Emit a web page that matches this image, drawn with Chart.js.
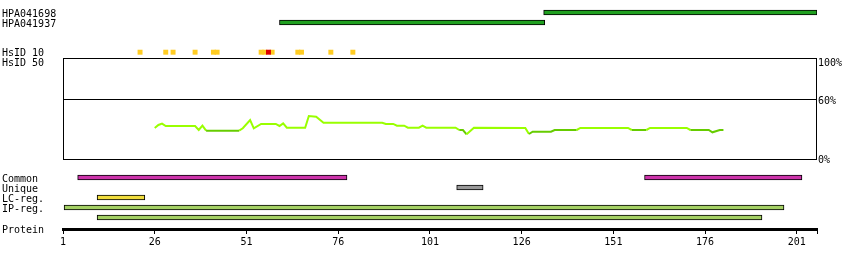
<!DOCTYPE html>
<html lang="en">
<head>
  <meta charset="UTF-8" />
  <title>Protein feature map</title>
  <script src="https://cdn.jsdelivr.net/npm/chart.js"></script>
  <style>
    body {
      margin: 0;
      background: #fff;
    }

    .wrap {
      position: relative;
      width: 850px;
      height: 270px;
    }

    .lbl {
      position: absolute;
      font-family: "DejaVu Sans Mono", monospace;
      font-size: 10px;
      line-height: 12px;
      color: #000;
      white-space: pre;
    }
  </style>
</head>
<body>

<div class="wrap">
  <canvas id="map"></canvas>

  <div class="lbl" style="left:2px; top:8px;">HPA041698</div>
  <div class="lbl" style="left:2px; top:18px;">HPA041937</div>
  <div class="lbl" style="left:2px; top:47px;">HsID 10</div>
  <div class="lbl" style="left:2px; top:57px;">HsID 50</div>
  <div class="lbl" style="left:2px; top:173px;">Common</div>
  <div class="lbl" style="left:2px; top:183px;">Unique</div>
  <div class="lbl" style="left:2px; top:193px;">LC-reg.</div>
  <div class="lbl" style="left:2px; top:203px;">IP-reg.</div>
  <div class="lbl" style="left:2px; top:224px;">Protein</div>

  <div class="lbl" style="left:818px; top:57px;">100%</div>
  <div class="lbl" style="left:818px; top:95px;">60%</div>
  <div class="lbl" style="left:818px; top:154px;">0%</div>
</div>

<script>
  // --- data ---
  const axisEnd = 206.5;
  const tickValues = [1, 26, 51, 76, 101, 126, 151, 176, 201];

  const antibodyStart = [132, 60];     // HPA041698, HPA041937
  const antibodyEnd = [206.5, 132.3];

  const hsid10Residues = [22, 29, 31, 37, 42, 43, 55, 56, 58, 65, 66, 74, 80];
  const hsid10Strong = [57];

  const commonRanges = [[5, 78.4], [159.5, 202.4]];
  const uniqueRanges = [[108.3, 115.5]];
  const lcRanges = [[10.3, 23.3]];
  const ipRanges = [[1.3, 197.5], [10.3, 191.5]];

  const lineResidue = [26, 27, 28, 29, 37, 38, 39, 40, 49, 50, 52, 53, 55, 59, 60, 61,
    62, 67, 68, 70, 72, 88, 89, 91, 92, 94, 95, 98, 99, 100, 108, 109,
    110, 111, 113, 127, 128, 129, 134, 135, 141, 142, 155, 156, 160, 161, 171, 172,
    177, 178, 180, 181];
  const linePercent = [30.8, 33.8, 35.2, 32.8, 32.8, 28.8, 33.1, 28.1, 28.1, 30.5, 38.7, 30.5, 34.8, 34.8, 32.8, 35.4,
    31.1, 31.1, 42.7, 42.0, 36.0, 36.0, 34.8, 34.8, 33.1, 33.1, 31.1, 31.1, 33.1, 31.1, 31.1, 28.8,
    28.8, 24.5, 31.1, 30.8, 24.8, 27.1, 27.1, 28.8, 28.8, 30.8, 30.8, 28.8, 28.8, 30.8, 30.8, 28.8,
    28.8, 26.5, 28.8, 28.8];
  const lowThreshold = 30;

  // --- layout: rows are page pixels on the hidden y scale ---
  const rowY = {
    ab: [12.5, 22.5],
    hsid: 52.2,
    common: 177.5,
    unique: 187.5,
    lc: 197.5,
    ip: [207.5, 217.5],
    protein: 229
  };
  const pctZeroPx = 159;     // 0% line
  const pctFullPx = 58.3;    // 100% line

  const lightGreen = '#99ff00';
  const darkGreen = '#66cc00';

  function rangeBars(ranges, y) {
    return ranges.map(r => ({ x: r, y: y }));
  }

  function barSet(data, color, order) {
    return {
      type: 'bar',
      indexAxis: 'y',
      xAxisID: 'x',
      yAxisID: 'y',
      order: order,
      data: data,
      backgroundColor: color,
      borderColor: '#000',
      borderWidth: 1,
      borderSkipped: false,
      barThickness: 5,
      grouped: false
    };
  }

  // box for the percent track + 60% line
  const percentBox = {
    id: 'percentBox',
    beforeDatasetsDraw(chart) {
      const { ctx, scales: { x, yp } } = chart;
      const left = Math.round(x.left) + 0.5;
      const right = Math.round(x.right) - 0.5;
      const top = Math.round(yp.getPixelForValue(100)) + 0.5;
      const mid = Math.round(yp.getPixelForValue(60)) + 0.5;
      const bottom = Math.round(yp.getPixelForValue(0)) + 0.5;
      ctx.save();
      ctx.strokeStyle = '#000';
      ctx.lineWidth = 1;
      ctx.strokeRect(left, top, right - left, bottom - top);
      ctx.beginPath();
      ctx.moveTo(left, mid);
      ctx.lineTo(right, mid);
      ctx.stroke();
      ctx.restore();
    }
  };

  Chart.defaults.font.family = '"DejaVu Sans Mono", monospace';
  Chart.defaults.font.size = 10;
  Chart.defaults.color = '#000';

  const chart = new Chart(document.getElementById('map'), {
    type: 'line',
    data: {
      datasets: [
        {
          type: 'scatter',
          xAxisID: 'x',
          yAxisID: 'y',
          order: 0,
          data: hsid10Strong.map(r => ({ x: r, y: rowY.hsid })),
          pointStyle: 'rect',
          pointRadius: 3.5,
          pointBorderWidth: 0,
          backgroundColor: '#dd0000'
        },
        {
          type: 'scatter',
          xAxisID: 'x',
          yAxisID: 'y',
          order: 1,
          data: hsid10Residues.map(r => ({ x: r, y: rowY.hsid })),
          pointStyle: 'rect',
          pointRadius: 3.5,
          pointBorderWidth: 0,
          backgroundColor: '#ffcc22'
        },
        {
          type: 'line',
          xAxisID: 'x',
          yAxisID: 'yp',
          order: 2,
          data: lineResidue.map((r, i) => ({ x: r, y: linePercent[i] })),
          borderColor: lightGreen,
          borderWidth: 2,
          pointRadius: 0,
          tension: 0,
          fill: false,
          segment: {
            borderColor: c => (c.p0.parsed.y < lowThreshold && c.p1.parsed.y < lowThreshold) ? darkGreen : lightGreen
          }
        },
        barSet(antibodyStart.map((s, i) => ({ x: [s, antibodyEnd[i]], y: rowY.ab[i] })), '#20a020', 3),
        barSet(rangeBars(commonRanges, rowY.common), '#cc33aa', 4),
        barSet(rangeBars(uniqueRanges, rowY.unique), '#999999', 5),
        barSet(rangeBars(lcRanges, rowY.lc), '#f0dc3c', 6),
        barSet(ipRanges.map((r, i) => ({ x: r, y: rowY.ip[i] })), '#a4d064', 7)
      ]
    },
    options: {
      responsive: true,
      maintainAspectRatio: false,
      animation: false,
      events: [],
      layout: { autoPadding: false, padding: { left: 63, right: 33, top: 0, bottom: 0 } },
      plugins: {
        legend: { display: false },
        tooltip: { enabled: false }
      },
      scales: {
        x: {
          type: 'linear',
          min: 1,
          max: axisEnd,
          offset: false,
          position: { y: rowY.protein },
          afterBuildTicks: scale => {
            scale.ticks = tickValues.concat([axisEnd]).map(v => ({ value: v }));
          },
          ticks: {
            padding: 4,
            maxRotation: 0,
            autoSkip: false,
            callback: v => (tickValues.includes(v) ? String(v) : '')
          },
          grid: {
            display: true,
            offset: false,
            drawOnChartArea: false,
            drawTicks: true,
            tickLength: 3,
            tickColor: '#000',
            tickWidth: 1
          },
          border: { display: true, color: '#000', width: 3 }
        },
        y: {
          type: 'linear',
          display: false,
          reverse: true,
          offset: false,
          grid: { offset: false },
          min: 0,
          max: 270
        },
        yp: {
          type: 'linear',
          display: false,
          offset: false,
          min: 0,
          max: 100
        }
      }
    },
    plugins: [percentBox]
  });

  // second pass: make the hidden y scale equal to page pixels,
  // and put 0% / 100% of the percent scale on their rows
  function fitRows() {
    const { top, bottom } = chart.chartArea;
    const h = bottom - top;
    chart.options.scales.y.min = top;
    chart.options.scales.y.max = bottom;
    const range = 100 * h / (pctZeroPx - pctFullPx);
    const max = (pctZeroPx - top) * range / h;
    chart.options.scales.yp.min = max - range;
    chart.options.scales.yp.max = max;
    chart.update();
  }
  fitRows();
</script>

</body>
</html>
